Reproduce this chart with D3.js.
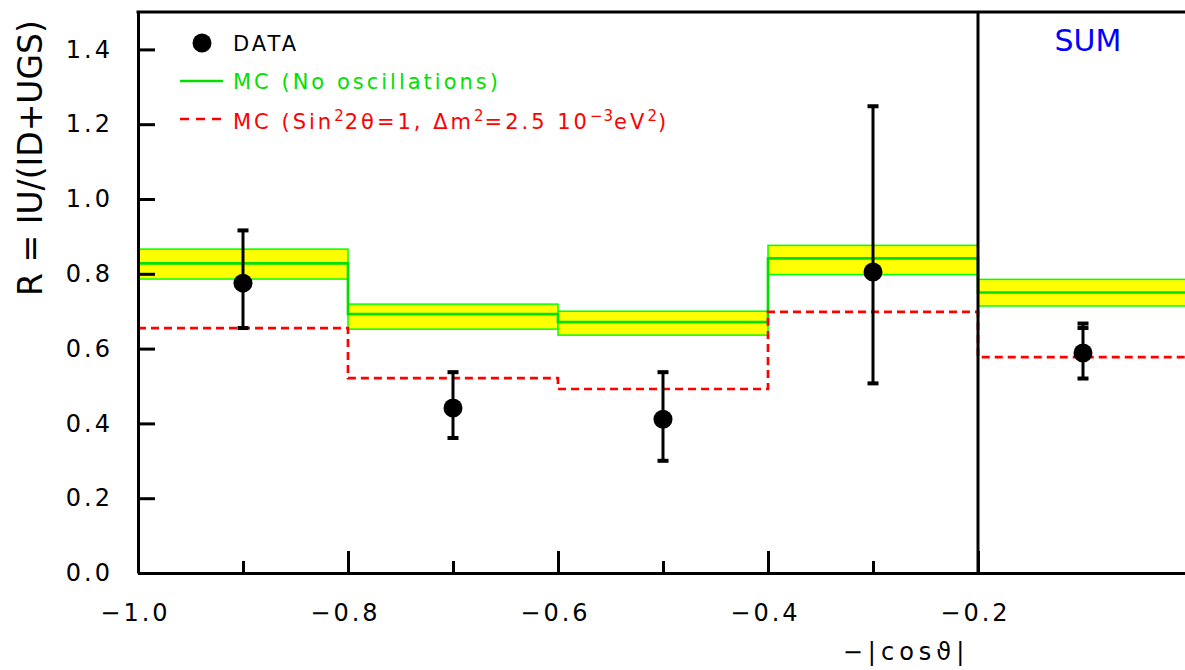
<!DOCTYPE html>
<html>
<head>
<meta charset="utf-8">
<script src="https://cdn.jsdelivr.net/npm/d3@7"></script>
<style>
  body { margin: 0; background: #fff; }
  svg { display: block; }
  text { font-family: "DejaVu Sans", sans-serif; }
</style>
</head>
<body>
<svg id="chart" width="1185" height="670"></svg>
<script>
// bins in -|cos theta|, last bin is the SUM column
const binEdges = [-1.0, -0.8, -0.6, -0.4, -0.2, 0.0];
const mcNoOsc   = [0.828, 0.692, 0.671, 0.841, 0.750];
const mcNoOscHi = [0.866, 0.719, 0.700, 0.876, 0.785];
const mcNoOscLo = [0.786, 0.652, 0.636, 0.798, 0.714];
const mcOsc     = [0.655, 0.521, 0.492, 0.698, 0.577];

// measured points
const dataX  = [-0.9, -0.7, -0.5, -0.3, -0.1];
const dataR  = [0.775, 0.441, 0.411, 0.805, 0.588];
const dataHi = [0.916, 0.537, 0.537, 1.248, 0.667];
const dataLo = [0.655, 0.361, 0.300, 0.507, 0.520];
const dataStatHi = [null, null, null, null, 0.655];   // inner cap, only on SUM

const yTicks = [0.0, 0.2, 0.4, 0.6, 0.8, 1.0, 1.2, 1.4];
const xMajor = [-1.0, -0.8, -0.6, -0.4, -0.2];
const xMinor = [-0.9, -0.7, -0.5, -0.3];

const svg = d3.select('#chart');
const x = d3.scaleLinear().domain([-1, 0]).range([138, 1188]);
const y = d3.scaleLinear().domain([0, 1.5]).range([573, 12]);

const bins = mcNoOsc.map((v, i) => ({
    x0: binEdges[i], x1: binEdges[i + 1],
    mid: v, hi: mcNoOscHi[i], lo: mcNoOscLo[i], osc: mcOsc[i]
}));

// yellow error bands with green outline
svg.append('g').selectAll('rect')
    .data(bins)
    .join('rect')
    .attr('x', d => x(d.x0))
    .attr('y', d => y(d.hi))
    .attr('width', d => x(d.x1) - x(d.x0))
    .attr('height', d => y(d.lo) - y(d.hi))
    .attr('fill', '#ffff00')
    .attr('stroke', '#00ff00')
    .attr('stroke-width', 1.5);

// step histograms
function steps(key) {
    let pts = [];
    bins.forEach(d => {
        pts.push([x(d.x0), y(d[key])]);
        pts.push([x(d.x1), y(d[key])]);
    });
    return d3.line()(pts);
}

svg.append('path')
    .attr('d', steps('mid'))
    .attr('fill', 'none')
    .attr('stroke', '#00e000')
    .attr('stroke-width', 2.7);

svg.append('path')
    .attr('d', steps('osc'))
    .attr('fill', 'none')
    .attr('stroke', '#ff0000')
    .attr('stroke-width', 2.7)
    .attr('stroke-dasharray', '8,5');

// axes
const yAxis = d3.axisLeft(y)
    .tickValues(yTicks)
    .tickFormat(d3.format('.1f'))
    .tickSize(-17)
    .tickSizeOuter(0)
    .tickPadding(25);

const gy = svg.append('g')
    .attr('transform', `translate(${x(-1)},0)`)
    .call(yAxis);

const xAxis = d3.axisBottom(x)
    .tickValues(xMajor)
    .tickFormat(d3.format('.1f'))
    .tickSize(-22)
    .tickSizeOuter(0)
    .tickPadding(31);

const gx = svg.append('g')
    .attr('transform', `translate(0,${y(0)})`)
    .call(xAxis);

svg.append('g')
    .attr('transform', `translate(0,${y(0)})`)
    .call(d3.axisBottom(x).tickValues(xMinor).tickFormat('').tickSize(-12).tickSizeOuter(0))
    .select('.domain').remove();

svg.selectAll('.domain, .tick line')
    .attr('stroke', '#000')
    .attr('stroke-width', 3);

gy.selectAll('.tick text')
    .attr('font-size', 24)
    .attr('letter-spacing', 3)
    .attr('fill', '#000');
gx.selectAll('.tick text')
    .attr('font-size', 24)
    .attr('letter-spacing', 3)
    .attr('dx', -3)
    .attr('fill', '#000');

// frame top and SUM divider
svg.append('line')
    .attr('x1', x(-1) - 1.5).attr('x2', x(0))
    .attr('y1', y(1.5)).attr('y2', y(1.5))
    .attr('stroke', '#000').attr('stroke-width', 3);
svg.append('line')
    .attr('x1', x(-0.2)).attr('x2', x(-0.2))
    .attr('y1', y(1.5)).attr('y2', y(0))
    .attr('stroke', '#000').attr('stroke-width', 3);

// data points with error bars
const pts = dataX.map((v, i) => ({ x: v, r: dataR[i], hi: dataHi[i], lo: dataLo[i], stat: dataStatHi[i] }));
const gp = svg.append('g');
gp.selectAll('line.err')
    .data(pts)
    .join('line')
    .attr('class', 'err')
    .attr('x1', d => x(d.x)).attr('x2', d => x(d.x))
    .attr('y1', d => y(d.hi)).attr('y2', d => y(d.lo))
    .attr('stroke', '#000').attr('stroke-width', 3);

const caps = [];
pts.forEach(d => {
    caps.push({ x: d.x, v: d.hi });
    caps.push({ x: d.x, v: d.lo });
    if (d.stat != null) caps.push({ x: d.x, v: d.stat });
});
gp.selectAll('rect.cap')
    .data(caps)
    .join('rect')
    .attr('class', 'cap')
    .attr('x', d => x(d.x) - 5.5)
    .attr('y', d => y(d.v) - 2)
    .attr('width', 11)
    .attr('height', 4)
    .attr('fill', '#000');

gp.selectAll('circle')
    .data(pts)
    .join('circle')
    .attr('cx', d => x(d.x))
    .attr('cy', d => y(d.r))
    .attr('r', 9.5)
    .attr('fill', '#000');

// legend
const lg = svg.append('g').attr('font-size', 21).attr('letter-spacing', 3);
lg.append('circle').attr('cx', 202).attr('cy', 43).attr('r', 9.5).attr('fill', '#000');
lg.append('text').attr('x', 233).attr('y', 43).attr('dy', '0.36em').attr('fill', '#000').text('DATA');

lg.append('line').attr('x1', 180).attr('x2', 223).attr('y1', 81).attr('y2', 81)
    .attr('stroke', '#00e000').attr('stroke-width', 2.7);
lg.append('text').attr('x', 233).attr('y', 81).attr('dy', '0.36em').attr('fill', '#00e000')
    .text('MC (No oscillations)');

lg.append('line').attr('x1', 180).attr('x2', 223).attr('y1', 119).attr('y2', 119)
    .attr('stroke', '#ff0000').attr('stroke-width', 2.7).attr('stroke-dasharray', '9,7');
const red = lg.append('text').attr('x', 233).attr('y', 121).attr('dy', '0.36em').attr('fill', '#ff0000');
const parts = [
    ['MC (Sin', 0], ['2', 1], ['2\u03b8=1, \u0394m', 0], ['2', 1], ['=2.5 10', 0], ['\u22123', 1], ['eV', 0], ['2', 1], [')', 0]
];
parts.forEach(p => {
    const t = red.append('tspan').text(p[0]);
    if (p[1]) t.attr('font-size', 15).attr('baseline-shift', '55%').attr('letter-spacing', 1);
});

// SUM label
svg.append('text')
    .attr('x', 1088).attr('y', 40).attr('dy', '0.36em')
    .attr('text-anchor', 'middle')
    .attr('font-size', 30)
    .attr('fill', '#0000ff')
    .text('SUM');

// axis titles
svg.append('text')
    .attr('transform', 'translate(42,158) rotate(-90)')
    .attr('text-anchor', 'middle')
    .attr('font-size', 33)
    .attr('fill', '#000')
    .text('R = IU/(ID+UGS)');

svg.append('text')
    .attr('x', 906).attr('y', 660)
    .attr('text-anchor', 'middle')
    .attr('font-size', 24)
    .attr('letter-spacing', 5)
    .attr('fill', '#000')
    .text('\u2212|cos\u03d1|');
</script>
</body>
</html>
